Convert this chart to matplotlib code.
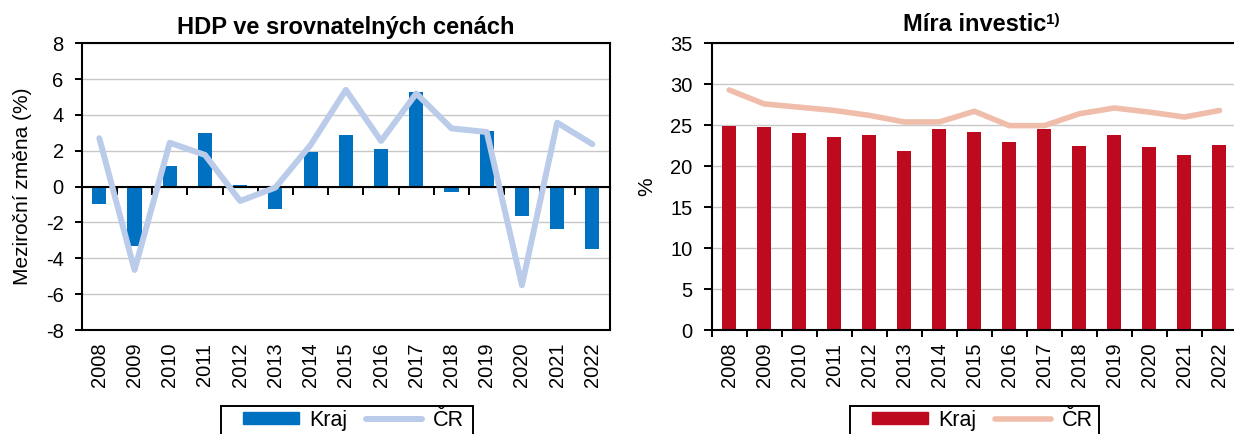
import numpy as np
import matplotlib
matplotlib.use("Agg")
import matplotlib.pyplot as plt
from matplotlib.patches import Patch
from matplotlib.lines import Line2D

plt.rcParams['font.family'] = ['Liberation Sans', 'DejaVu Sans']
plt.rcParams['axes.unicode_minus'] = False

years = ["2008", "2009", "2010", "2011", "2012", "2013", "2014", "2015",
         "2016", "2017", "2018", "2019", "2020", "2021", "2022"]

# Meziroční změna HDP ve srovnatelných cenách (%)
hdp_kraj = [-0.95, -3.3, 1.15, 3.0, 0.08, -1.25, 1.92, 2.9, 2.1, 5.3,
            -0.3, 3.1, -1.62, -2.38, -3.5]
hdp_cr = [2.7, -4.65, 2.45, 1.77, -0.8, -0.05, 2.33, 5.4, 2.55, 5.2,
          3.25, 3.05, -5.5, 3.57, 2.37]

# Míra investic (%)
inv_kraj = [24.9, 24.8, 24.0, 23.6, 23.8, 21.8, 24.5, 24.2, 22.9, 24.5,
            22.5, 23.8, 22.4, 21.4, 22.6]
inv_cr = [29.3, 27.6, 27.2, 26.8, 26.2, 25.4, 25.4, 26.7, 24.95, 24.95,
          26.4, 27.1, 26.6, 26.0, 26.8]

BLUE = "#0070C0"
LIGHT_BLUE = "#BACCEA"
RED = "#BE0A1E"
SALMON = "#EFBDA9"
GRID = "#C8C8C8"

W, H = 1234, 434
fig = plt.figure(figsize=(W / 100, H / 100), dpi=100)


def px_axes(left, top, right, bottom):
    return fig.add_axes([left / W, 1 - bottom / H, (right - left) / W, (bottom - top) / H])


def legend_box(left, top, right):
    # open-bottom frame: the legend box runs past the lower edge of the figure
    xs = [left / W, left / W, right / W, right / W]
    ys = [-0.05, 1 - top / H, 1 - top / H, -0.05]
    fig.add_artist(Line2D(xs, ys, transform=fig.transFigure, color='black',
                          lw=1.4, solid_joinstyle='miter', zorder=5))


x = np.arange(len(years))
bounds = np.arange(len(years) + 1) - 0.5
TICK_FS = 14.5
TITLE_FS = 17
LEG_FS = 15.5

leg_kw = dict(loc='upper left', ncol=2, fontsize=LEG_FS, frameon=False,
              handlelength=2.6, handleheight=0.5, handletextpad=0.5,
              columnspacing=0.85, borderpad=0, borderaxespad=0)

# ---------- HDP ve srovnatelných cenách ----------
ax1 = px_axes(81.7, 43.3, 610, 330)
ax1.bar(x, hdp_kraj, width=0.4, color=BLUE, zorder=2)
ax1.plot(x, hdp_cr, color=LIGHT_BLUE, lw=4.3, solid_capstyle='round',
         solid_joinstyle='round', zorder=4)
ax1.set_xlim(-0.5, len(years) - 0.5)
ax1.set_ylim(-8, 8)
ax1.set_yticks(np.arange(-8, 9, 2))
ax1.set_xticks(x, years, rotation=90)
ax1.tick_params(axis='x', length=0, pad=9, labelsize=TICK_FS)
ax1.tick_params(axis='y', length=5, width=1.4, pad=8, labelsize=TICK_FS)
ax1.yaxis.grid(True, color=GRID, lw=1.0, zorder=0)
ax1.set_axisbelow(True)
for s in ax1.spines.values():
    s.set_linewidth(1.5)
ax1.set_ylabel("Meziroční změna (%)", fontsize=15, labelpad=10)
ax1.set_title("HDP ve srovnatelných cenách", fontsize=TITLE_FS, fontweight='bold', pad=7)

# zero line with category separators hanging below it
zero = ax1.secondary_xaxis((0 - (-8)) / 16)
zero.set_xticks(bounds, labels=[])
zero.tick_params(length=6, width=1.4, direction='in')
for s in zero.spines.values():
    s.set_linewidth(1.5)
zero.set_zorder(3)

legend_box(221, 405.5, 473)
leg1 = fig.legend(handles=[Patch(color=BLUE, label="Kraj"),
                           Line2D([], [], color=LIGHT_BLUE, lw=4.3, label="ČR",
                                  solid_capstyle='round')],
                  bbox_to_anchor=(243 / W, 1 - 410 / H), **leg_kw)
leg1.set_zorder(6)

# ---------- Míra investic ----------
ax2 = px_axes(711.7, 43.3, 1237, 330)
ax2.bar(x, inv_kraj, width=0.4, color=RED, zorder=2)
ax2.plot(x, inv_cr, color=SALMON, lw=4.0, solid_capstyle='round',
         solid_joinstyle='round', zorder=3)
ax2.set_xlim(-0.5, len(years) - 0.5)
ax2.set_ylim(0, 35)
ax2.set_yticks(np.arange(0, 36, 5))
ax2.set_xticks(x, years, rotation=90)
ax2.set_xticks(bounds, minor=True)
ax2.tick_params(axis='x', which='major', length=0, pad=9, labelsize=TICK_FS)
ax2.tick_params(axis='x', which='minor', length=5, width=1.4, direction='out')
ax2.tick_params(axis='y', length=6, width=1.4, pad=8, labelsize=TICK_FS)
ax2.yaxis.grid(True, color=GRID, lw=1.0, zorder=0)
ax2.set_axisbelow(True)
for s in ax2.spines.values():
    s.set_linewidth(1.5)
ax2.spines['right'].set_visible(False)
ax2.set_ylabel("%", fontsize=15, labelpad=10)
ttl = ax2.set_title("Míra investic", fontsize=TITLE_FS, fontweight='bold', pad=8.5)
ax2.annotate("1)", xy=(1, 1), xycoords=ttl, xytext=(0, 0), textcoords='offset points',
             ha='left', va='top', fontsize=11, fontweight='bold')

legend_box(850, 405.5, 1099)
leg2 = fig.legend(handles=[Patch(color=RED, label="Kraj"),
                           Line2D([], [], color=SALMON, lw=4.0, label="ČR",
                                  solid_capstyle='round')],
                  bbox_to_anchor=(872 / W, 1 - 410 / H), **leg_kw)
leg2.set_zorder(6)

fig.savefig("out.png", dpi=100)
